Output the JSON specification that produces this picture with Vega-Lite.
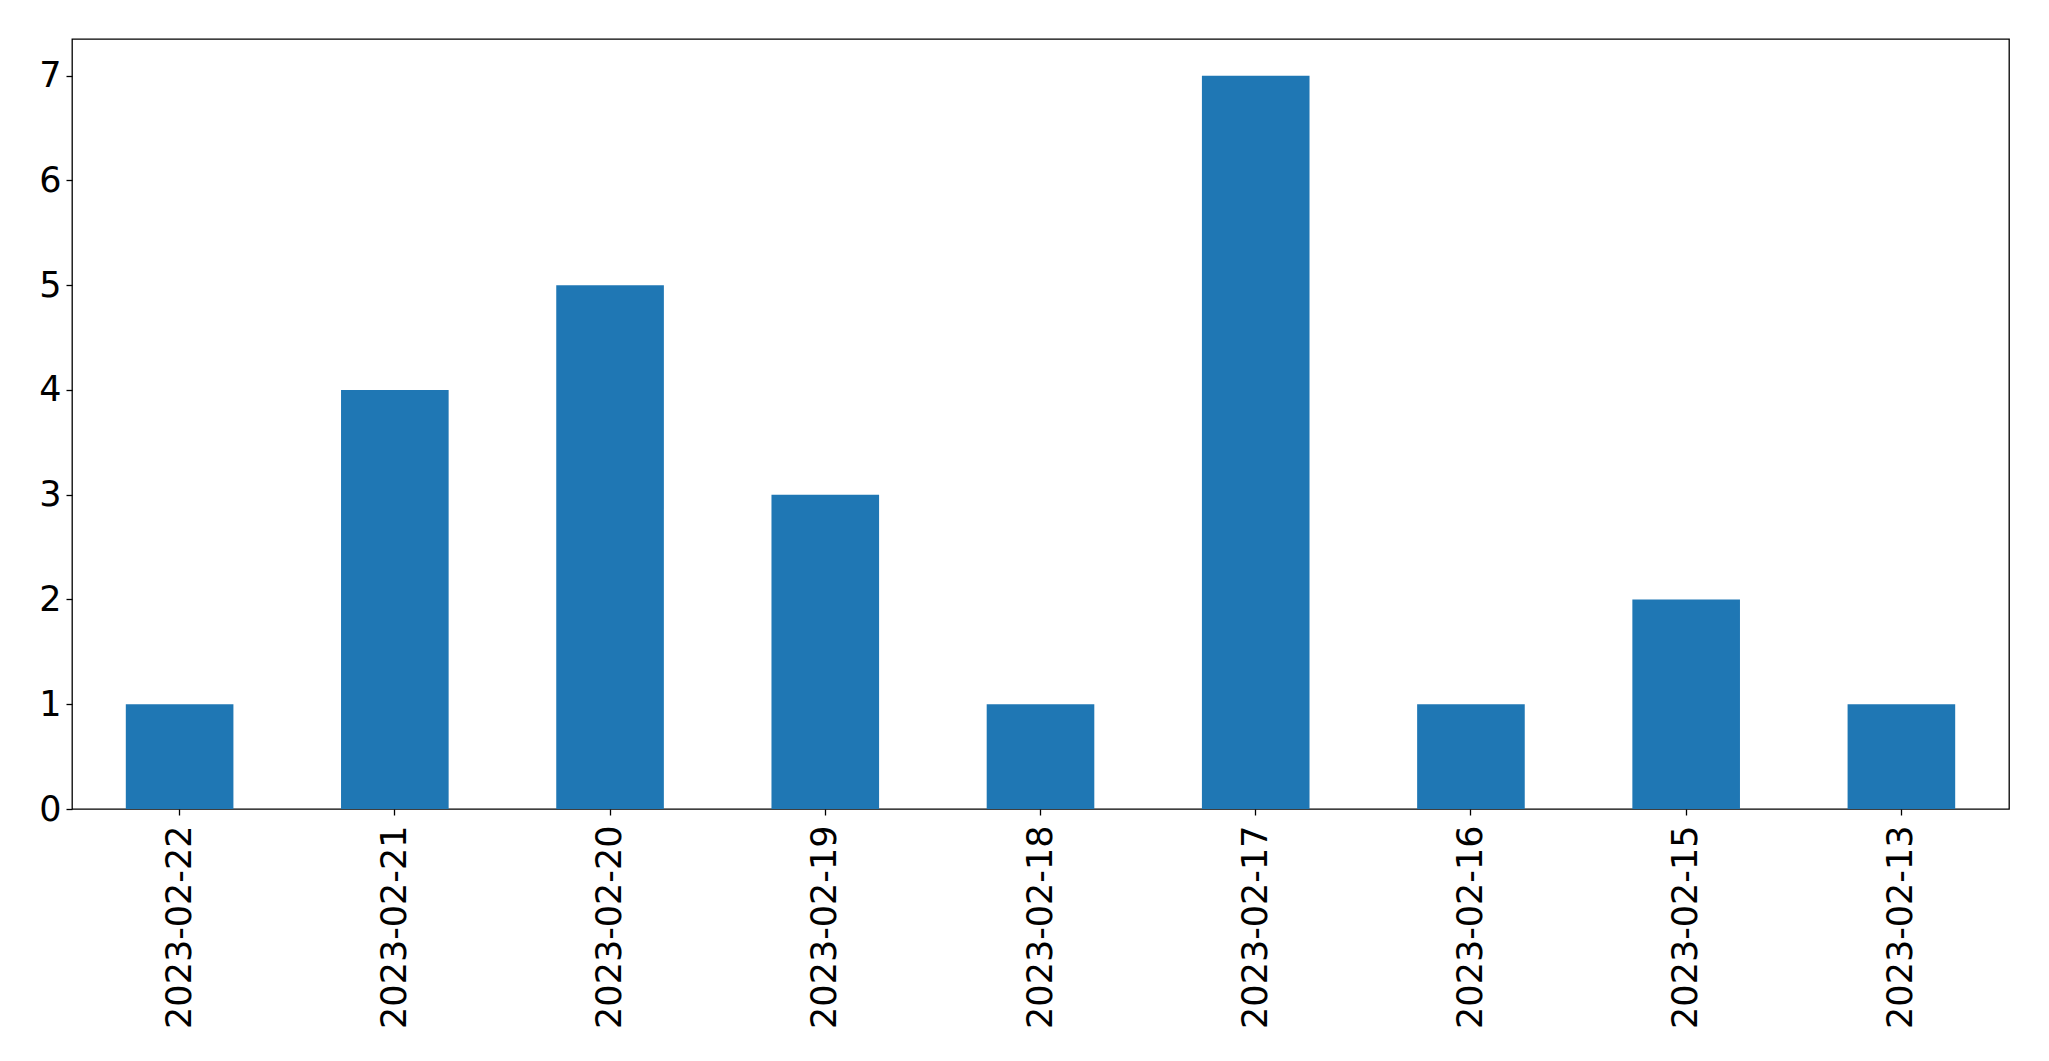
{
  "$schema": "https://vega.github.io/schema/vega-lite/v6.json",
  "autosize": {"type": "none"},
  "padding": {"left": 72, "top": 39, "right": 40, "bottom": 252},
  "width": 1937,
  "height": 770,
  "background": "white",
  "config": {
    "view": {"stroke": "black", "strokeWidth": 1.3},
    "axis": {
      "labelFont": "DejaVu Sans",
      "labelFontSize": 35,
      "labelColor": "black",
      "labelLimit": 0,
      "tickColor": "black",
      "tickSize": 6,
      "tickWidth": 1.3,
      "domain": false,
      "grid": false,
      "title": null
    }
  },
  "data": {
    "values": [
      {"date": "2023-02-22", "count": 1},
      {"date": "2023-02-21", "count": 4},
      {"date": "2023-02-20", "count": 5},
      {"date": "2023-02-19", "count": 3},
      {"date": "2023-02-18", "count": 1},
      {"date": "2023-02-17", "count": 7},
      {"date": "2023-02-16", "count": 1},
      {"date": "2023-02-15", "count": 2},
      {"date": "2023-02-13", "count": 1}
    ]
  },
  "mark": {"type": "bar", "color": "#1f77b4"},
  "encoding": {
    "x": {
      "field": "date",
      "type": "nominal",
      "sort": null,
      "scale": {"paddingInner": 0.5, "paddingOuter": 0.25},
      "axis": {"labelAngle": -90, "labelPadding": 10}
    },
    "y": {
      "field": "count",
      "type": "quantitative",
      "scale": {"domain": [0, 7.35], "nice": false, "zero": true},
      "axis": {"values": [0, 1, 2, 3, 4, 5, 6, 7], "labelPadding": 5}
    }
  }
}
